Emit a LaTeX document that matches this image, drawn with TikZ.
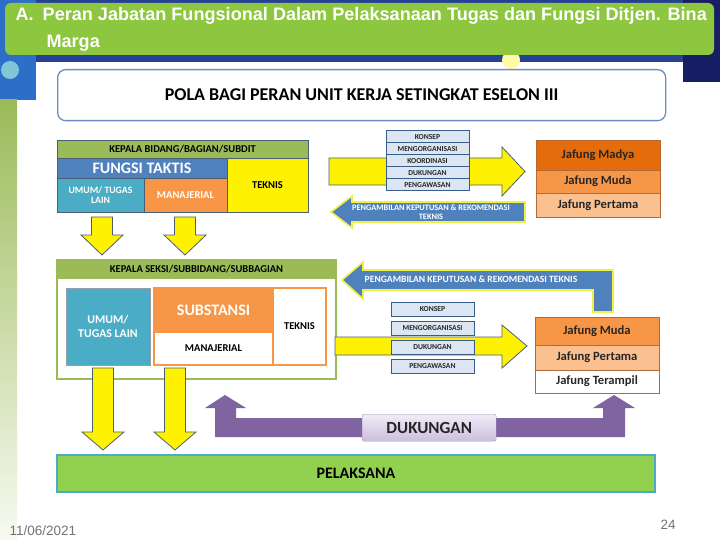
\documentclass[tikz,border=0pt]{standalone}
\usepackage{fontspec}
\setmainfont{Carlito}
\newfontfamily\judulfont{Liberation Sans}
\newcommand\fsz[2]{\fontsize{#1}{#2}\selectfont}

\definecolor{bgnavy}{RGB}{38,64,150}
\definecolor{bgdark}{RGB}{24,30,100}
\definecolor{bgblue}{RGB}{45,110,200}
\definecolor{hijaujudul}{RGB}{141,198,63}
\definecolor{garispola}{RGB}{108,142,191}
\definecolor{zaitun}{RGB}{155,187,89}
\definecolor{tepi}{RGB}{75,95,115}
\definecolor{taktis}{RGB}{79,129,189}
\definecolor{toska}{RGB}{75,172,198}
\definecolor{oranye}{RGB}{247,150,70}
\definecolor{madya}{RGB}{228,108,10}
\definecolor{pertama}{RGB}{250,192,144}
\definecolor{coklat}{RGB}{180,105,55}
\definecolor{butir}{RGB}{220,230,242}
\definecolor{butirtepi}{RGB}{56,93,138}
\definecolor{ungu}{RGB}{128,100,162}
\definecolor{lav1}{RGB}{240,236,246}
\definecolor{lav2}{RGB}{204,190,222}
\definecolor{hijauplk}{RGB}{146,208,80}
\definecolor{kuningtepi}{RGB}{240,240,70}

\tikzset{
  sel/.style={draw=#1, line width=.8pt, inner sep=0pt, outer sep=0pt,
    anchor=north west, align=center, font=\bfseries\fsz{10.5}{11.5}},
  butirbox/.style={sel=butirtepi, fill=butir, line width=1pt,
    minimum width=83, font=\bfseries\fsz{7.6}{8}, text=black!85},
  jafung/.style={sel=coklat, minimum width=124, font=\bfseries\fsz{12.6}{13},
    text=black!85},
  panahkuning/.style={fill=yellow, draw=tepi, line width=.8pt, line join=miter},
  panahbiru/.style={fill=taktis, draw=kuningtepi, line width=1.6pt}
}

% panah kuning ke bawah: x, atas, pangkal kepala, ujung
\newcommand\panahbawah[4]{%
  \draw[panahkuning] (#1-10.5,#2) -- (#1+10.5,#2) -- (#1+10.5,#3) -- (#1+21,#3)
    -- (#1,#4) -- (#1-21,#3) -- (#1-10.5,#3) -- cycle;}

\begin{document}
\begin{tikzpicture}[x=1pt,y=-1pt]
    \useasboundingbox (0,0) rectangle (720,540);
    \fill[white] (0,0) rectangle (720,540);

    % latar slide
    \fill[bgnavy] (0,0) rectangle (720,62);
    \fill[bgdark] (683,0) rectangle (720,82);
    \fill[bgblue] (0,0) rectangle (36,100);
    \fill[toska!70] (10,70) circle (9);
    \shade[top color=zaitun, bottom color=zaitun!8] (0,100) rectangle (17,540);
    \fill[yellow!35] (511,60) circle (9);

    % judul
    \fill[hijaujudul, rounded corners=6pt] (5,3) rectangle (714,55);
    \node[anchor=west, text=white, font=\judulfont\bfseries\fsz{18.1}{18}] (judul1) at(12,16)
        {A.\enspace Peran Jabatan Fungsional Dalam Pelaksanaan Tugas dan Fungsi Ditjen. Bina};
    \node[anchor=west, text=white, font=\judulfont\bfseries\fsz{18.1}{18}] (judul2) at(43,43) {Marga};

    \node[draw=garispola, line width=1.3pt, rounded corners=8pt, fill=white, inner sep=0pt,
        anchor=north west, minimum width=608, minimum height=51,
        font=\bfseries\fsz{18}{18}] (pola) at(57,69) {POLA BAGI PERAN UNIT KERJA SETINGKAT ESELON III};

    % eselon III
    \node[sel=tepi, fill=zaitun, minimum width=251, minimum height=18] (kabid) at(57,140) {KEPALA BIDANG/BAGIAN/SUBDIT};
    \node[sel=tepi, fill=taktis, minimum width=170, minimum height=20, text=white,
        font=\bfseries\fsz{16}{16}] (taktis) at(57,158) {FUNGSI TAKTIS};
    \node[sel=tepi, fill=yellow, minimum width=81, minimum height=54] (teknis1) at(227,158) {TEKNIS};
    \node[sel=tepi, fill=toska, minimum width=87, minimum height=34, text=white,
        font=\bfseries\fsz{9.7}{10.5}] (umum1) at(57,178) {UMUM/ TUGAS\\LAIN};
    \node[sel=tepi, fill=oranye, minimum width=83, minimum height=34, text=white] (manaj1) at(144,178) {MANAJERIAL};

        \panahbawah{102}{217}{235}{255}
        \panahbawah{185}{217}{235}{255}

    % eselon IV
    \node[sel=zaitun, line width=1.2pt, fill=white, minimum width=279, minimum height=119] (seksi) at(57,260) {};
    \node[sel=zaitun, line width=1.2pt, fill=zaitun, minimum width=279, minimum height=18] (kasi) at(57,260) {KEPALA SEKSI/SUBBIDANG/SUBBAGIAN};
    \node[sel=tepi!60, fill=toska, minimum width=84, minimum height=77, text=white,
        font=\bfseries\fsz{11.8}{13.5}] (umum2) at(66,288) {UMUM/\\TUGAS LAIN};
    \node[sel=oranye, line width=1.2pt, fill=oranye, minimum width=119, minimum height=44, text=white,
        font=\bfseries\fsz{16}{16}] (substansi) at(154,288) {SUBSTANSI};
    \node[sel=oranye, line width=1.2pt, fill=white, minimum width=119, minimum height=33] (manaj2) at(154,332) {MANAJERIAL};
    \node[sel=oranye, line width=1.2pt, fill=white, minimum width=53, minimum height=77] (teknis2) at(273,288) {TEKNIS};

        \panahbawah{103}{368}{432}{450}
        \panahbawah{175}{368}{432}{450}

    % jalur kanan atas
    \draw[panahkuning] (329,158) -- (502,158) -- (502,147) -- (525,171.5) -- (502,196) -- (502,185) -- (329,185) -- cycle;
    \foreach \i/\teks in {0/KONSEP,1/MENGORGANISASI,2/KOORDINASI,3/DUKUNGAN,4/PENGAWASAN}
        \node[butirbox, minimum height=12] (butirA\i) at(386,131+12*\i) {\teks};
    \draw[panahbiru] (525,202) -- (352,202) -- (352,196) -- (331,212) -- (352,228) -- (352,222) -- (525,222) -- cycle;
    \node[text=white, align=center, font=\bfseries\fsz{8.3}{9}] (putusA) at(431,212)
        {PENGAMBILAN KEPUTUSAN \& REKOMENDASI\\TEKNIS};

    \node[jafung, fill=madya, minimum height=30] (madya) at(536,140) {Jafung Madya};
    \node[jafung, fill=oranye, minimum height=23] (muda1) at(536,170) {Jafung Muda};
    \node[jafung, fill=pertama, minimum height=24] (pertama1) at(536,193) {Jafung Pertama};

    % jalur kanan bawah
    \draw[panahbiru] (342,280) -- (363,262) -- (363,270) -- (613,270) -- (613,312) -- (593,312)
        -- (593,290) -- (363,290) -- (363,299) -- cycle;
    \node[text=white, font=\bfseries\fsz{9.6}{10}] (putusB) at(471,279) {PENGAMBILAN KEPUTUSAN \& REKOMENDASI TEKNIS};
    \draw[panahkuning] (335,337) -- (502,337) -- (502,325) -- (527,346) -- (502,368) -- (502,355) -- (335,355) -- cycle;
    \foreach \i/\teks in {0/KONSEP,1/MENGORGANISASI,2/DUKUNGAN,3/PENGAWASAN}
        \node[butirbox, minimum height=14] (butirB\i) at(391,302+19*\i) {\teks};

    \node[jafung, fill=oranye, minimum height=28] (muda2) at(535,317) {Jafung Muda};
    \node[jafung, fill=pertama, minimum height=25] (pertama2) at(535,345) {Jafung Pertama};
    \node[jafung, fill=white, minimum height=23] (terampil) at(535,370) {Jafung Terampil};

    % dukungan
    \fill[ungu] (215,437) -- (215,408) -- (205,408) -- (225,395) -- (246,408) -- (236,408) -- (236,418)
        -- (603,418) -- (603,408) -- (593,408) -- (614,395) -- (635,408) -- (625,408) -- (625,437) -- cycle;
    \node[draw=lav2!80!black, rounded corners=2pt, top color=lav1, bottom color=lav2, inner sep=0pt,
        anchor=north west, minimum width=134, minimum height=27,
        font=\bfseries\fsz{17}{17}, text=black!85] (dukungan) at(362,414) {DUKUNGAN};

    \node[sel=toska, line width=1.2pt, fill=hijauplk, minimum width=598, minimum height=37,
        font=\bfseries\fsz{16}{16}] (pelaksana) at(57,455) {PELAKSANA};

    % kaki slide
    \node[anchor=west, text=black!55, font=\judulfont\fsz{13.5}{13}] (tanggal) at(6,531) {11/06/2021};
    \node[text=black!55, font=\judulfont\fsz{13.5}{13}] (halaman) at(668,525) {24};
\end{tikzpicture}
\end{document}
